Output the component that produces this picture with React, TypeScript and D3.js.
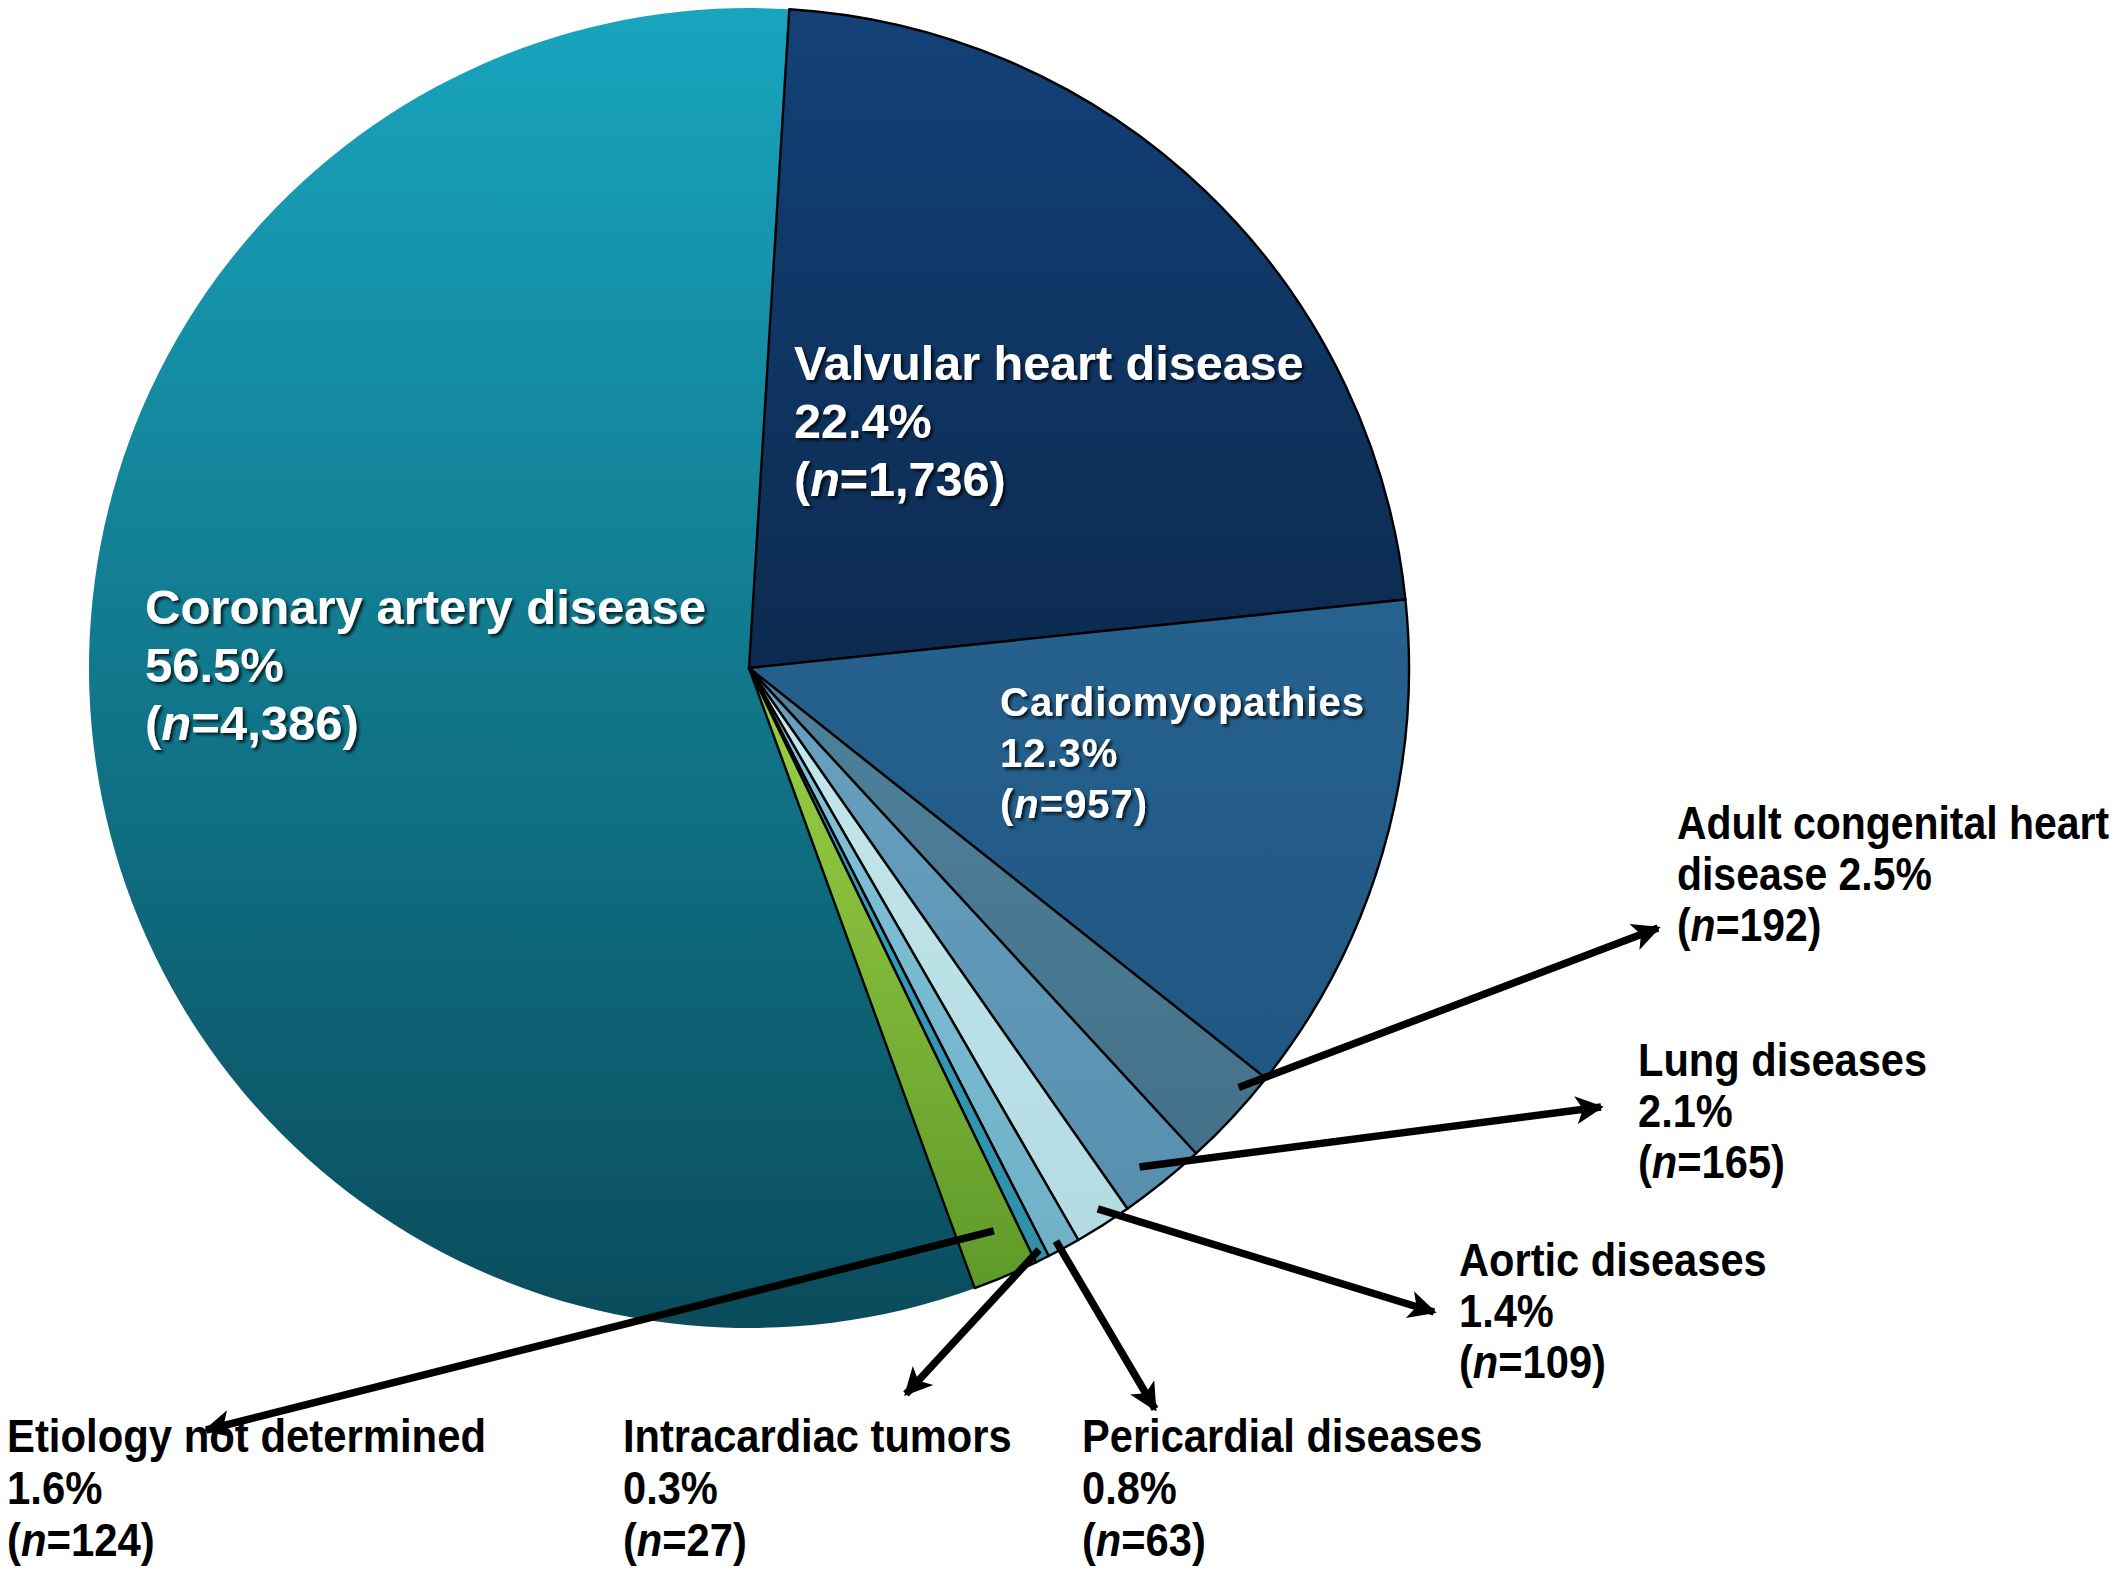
import React, { useEffect } from "react";
import * as d3 from "d3";

const categories = [
  "Valvular heart disease",
  "Cardiomyopathies",
  "Adult congenital heart disease",
  "Lung diseases",
  "Aortic diseases",
  "Pericardial diseases",
  "Intracardiac tumors",
  "Etiology not determined",
  "Coronary artery disease",
];
const counts = [1736, 957, 192, 165, 109, 63, 27, 124, 4386];
const percents = ["22.4%", "12.3%", "2.5%", "2.1%", "1.4%", "0.8%", "0.3%", "1.6%", "56.5%"];
const countLabels = ["1,736", "957", "192", "165", "109", "63", "27", "124", "4,386"];

// gradient colours (top, bottom) per slice
const colorTop = ["#134178", "#26628e", "#4f819b", "#68a2c0", "#c3e7ec", "#82c4d8", "#38a6cf", "#9dd144", "#18a5be"];
const colorBottom = ["#0c2a4f", "#205682", "#44718a", "#5690ae", "#b3dce2", "#6fb2c8", "#2f8fa8", "#5e9a2a", "#0a4c5c"];

const W = 2128;
const H = 1570;
const cx = 749;
const cy = 668;
const R = 660;
const startDeg = 3.5;

// label layout
type Lbl = { idx: number; x: number; y: number; lines: string[]; inside: boolean; size: number; gap: number; ls?: number; sx?: number };
const labels: Lbl[] = [
  { idx: 0, x: 794, y: 380, lines: ["Valvular heart disease", "22.4%", "(n=1,736)"], inside: true, size: 48.5, gap: 58 },
  { idx: 8, x: 145, y: 624, lines: ["Coronary artery disease", "56.5%", "(n=4,386)"], inside: true, size: 49, gap: 58 },
  { idx: 1, x: 1000, y: 716, lines: ["Cardiomyopathies", "12.3%", "(n=957)"], inside: true, size: 40, gap: 51, ls: 1 },
  { idx: 2, x: 1677, y: 839, lines: ["Adult congenital heart", "disease 2.5%", "(n=192)"], inside: false, size: 46, gap: 51, sx: 0.89 },
  { idx: 3, x: 1638, y: 1076, lines: ["Lung diseases", "2.1%", "(n=165)"], inside: false, size: 46, gap: 51, sx: 0.905 },
  { idx: 4, x: 1459, y: 1276, lines: ["Aortic diseases", "1.4%", "(n=109)"], inside: false, size: 46, gap: 51, sx: 0.905 },
  { idx: 7, x: 7, y: 1452, lines: ["Etiology not determined", "1.6%", "(n=124)"], inside: false, size: 46, gap: 52, sx: 0.91 },
  { idx: 6, x: 623, y: 1452, lines: ["Intracardiac tumors", "0.3%", "(n=27)"], inside: false, size: 46, gap: 52, sx: 0.905 },
  { idx: 5, x: 1082, y: 1452, lines: ["Pericardial diseases", "0.8%", "(n=63)"], inside: false, size: 46, gap: 52, sx: 0.905 },
];

// arrows: slice index, position within slice (fraction of angle), radius factor, tip
const arrowSlice = [2, 3, 4, 5, 6, 7];
const arrowT = [0.24, 0.6, 0.43, 0.6, 0.4, 0.39];
const arrowRf = [0.977, 0.96, 0.975, 0.985, 0.985, 0.93];
const arrowTipX = [1658, 1601, 1434, 1155, 906, 206];
const arrowTipY = [928, 1107, 1312, 1409, 1394, 1430];

function renderLine(s: string) {
  const m = s.match(/^\(n=(.*)$/);
  if (m) {
    return [
      <tspan key="a">(</tspan>,
      <tspan key="b" fontStyle="italic">n</tspan>,
      <tspan key="c">{"=" + m[1]}</tspan>,
    ];
  }
  return s;
}

export default function App() {
  useEffect(() => {
    document.body.style.margin = "0";
  }, []);

  const pie = d3
    .pie<number>()
    .sort(null)
    .value((d) => d)
    .startAngle((startDeg * Math.PI) / 180)
    .endAngle((startDeg * Math.PI) / 180 + 2 * Math.PI);
  const arcs = pie(counts);
  const arcGen = d3.arc<d3.PieArcDatum<number>>().innerRadius(0).outerRadius(R);

  const arrows = arrowSlice.map((si, k) => {
    const a = arcs[si];
    const ang = a.startAngle + arrowT[k] * (a.endAngle - a.startAngle);
    const r = R * arrowRf[k];
    return {
      x1: cx + r * Math.sin(ang),
      y1: cy - r * Math.cos(ang),
      x2: arrowTipX[k],
      y2: arrowTipY[k],
    };
  });

  // draw order: coronary first (no outline), then others
  const order = [8, 0, 1, 2, 3, 4, 5, 6, 7];

  return (
    <svg width={W} height={H} style={{ display: "block", background: "#fff" }}>
      <defs>
        {categories.map((c, i) => (
          <linearGradient key={i} id={`g${i}`} x1="0" y1="0" x2="0" y2="1">
            <stop offset="0%" stopColor={colorTop[i]} />
            <stop offset="100%" stopColor={colorBottom[i]} />
          </linearGradient>
        ))}
        <filter id="shadow" x="-5%" y="-20%" width="110%" height="140%">
          <feDropShadow dx="2.5" dy="2.5" stdDeviation="1.5" floodColor="#000" floodOpacity="0.75" />
        </filter>
        <marker id="arrow" viewBox="0 0 10 10" refX="9" refY="5" markerWidth="34" markerHeight="28" markerUnits="userSpaceOnUse" orient="auto">
          <path d="M0,0 L10,5 L0,10 L2.5,5 z" fill="#000" />
        </marker>
      </defs>
      <g transform={`translate(${cx},${cy})`}>
        {order.map((i) => (
          <path
            key={i}
            d={arcGen(arcs[i]) || ""}
            fill={`url(#g${i})`}
            stroke={i === 8 ? "none" : "#000"}
            strokeWidth={2.4}
            strokeLinejoin="round"
          />
        ))}
      </g>
      {arrows.map((a, k) => (
        <line key={k} x1={a.x1} y1={a.y1} x2={a.x2} y2={a.y2} stroke="#000" strokeWidth={7.5} markerEnd="url(#arrow)" />
      ))}
      {labels.map((l, k) => (
        <text
          key={k}
          x={l.x}
          y={l.y}
          fontFamily="'Liberation Sans', Arial, sans-serif"
          fontWeight="bold"
          fontSize={l.size}
          fill={l.inside ? "#fff" : "#000"}
          filter={l.inside ? "url(#shadow)" : undefined}
          letterSpacing={l.ls || 0}
          transform={l.sx ? `translate(${l.x},0) scale(${l.sx},1) translate(${-l.x},0)` : undefined}
        >
          {l.lines.map((s, j) => (
            <tspan key={j} x={l.x} y={l.y + j * l.gap}>
              {renderLine(s)}
            </tspan>
          ))}
        </text>
      ))}
    </svg>
  );
}
